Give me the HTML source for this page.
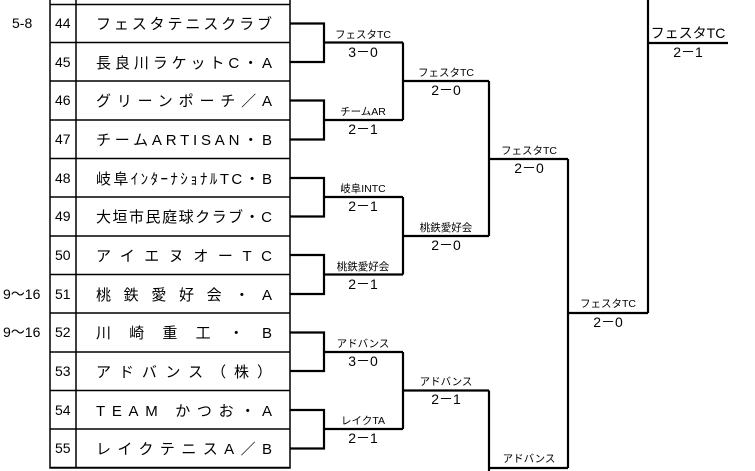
<!DOCTYPE html>
<html><head><meta charset="utf-8"><style>
html,body{margin:0;padding:0;background:#fff;}
svg{display:block;}
text{font-family:"Liberation Sans","Noto Sans CJK JP",sans-serif;fill:#000;}
.n{font-size:14px;}
.t{font-size:15px;}
.l{font-size:10.5px;}
.s{font-size:14px;}
</style></head><body>
<svg width="755" height="471" viewBox="0 0 755 471" xmlns="http://www.w3.org/2000/svg">
<g stroke="#000" stroke-width="1.5" fill="none">
<rect x="50" y="-2" width="240" height="470"/>
<line x1="76" y1="-2" x2="76" y2="468"/>
<line x1="50" y1="4.5" x2="290" y2="4.5"/>
<line x1="50" y1="42.5" x2="290" y2="42.5"/>
<line x1="50" y1="81" x2="290" y2="81"/>
<line x1="50" y1="120" x2="290" y2="120"/>
<line x1="50" y1="158.5" x2="290" y2="158.5"/>
<line x1="50" y1="197" x2="290" y2="197"/>
<line x1="50" y1="236" x2="290" y2="236"/>
<line x1="50" y1="274.5" x2="290" y2="274.5"/>
<line x1="50" y1="313" x2="290" y2="313"/>
<line x1="50" y1="352" x2="290" y2="352"/>
<line x1="50" y1="390.5" x2="290" y2="390.5"/>
<line x1="50" y1="429" x2="290" y2="429"/>
<line x1="50" y1="467.5" x2="290" y2="467.5"/>
</g>
<g stroke="#000" stroke-width="2.2" fill="none">
<polyline points="290,23.5 324,23.5 324,62 290,62"/><line x1="324" y1="42.5" x2="403" y2="42.5"/>
<polyline points="290,100.5 324,100.5 324,139.5 290,139.5"/><line x1="324" y1="120" x2="403" y2="120"/>
<polyline points="290,178 324,178 324,216.5 290,216.5"/><line x1="324" y1="197" x2="403" y2="197"/>
<polyline points="290,255 324,255 324,294 290,294"/><line x1="324" y1="274.5" x2="403" y2="274.5"/>
<polyline points="290,332.5 324,332.5 324,371 290,371"/><line x1="324" y1="352" x2="403" y2="352"/>
<polyline points="290,410 324,410 324,448.5 290,448.5"/><line x1="324" y1="429" x2="403" y2="429"/>
<line x1="403" y1="42.5" x2="403" y2="120"/><line x1="403" y1="81" x2="489" y2="81"/>
<line x1="403" y1="197" x2="403" y2="274.5"/><line x1="403" y1="236" x2="489" y2="236"/>
<line x1="403" y1="352" x2="403" y2="429"/><line x1="403" y1="390.5" x2="489" y2="390.5"/>
<line x1="489" y1="81" x2="489" y2="236"/><line x1="489" y1="159" x2="568" y2="159"/>
<line x1="489" y1="390.5" x2="489" y2="471"/><line x1="489" y1="468" x2="568" y2="468"/>
<line x1="568" y1="159" x2="568" y2="468"/><line x1="568" y1="313" x2="648" y2="313"/>
<line x1="648" y1="0" x2="648" y2="313"/><line x1="648" y1="43" x2="728" y2="43"/>
</g>
<text class="n" x="12" y="28">5-8</text>
<text class="n" x="3" y="299">9～16</text>
<text class="n" x="3" y="337">9～16</text>
<g class="n">
<text x="55" y="28">44</text><text x="55" y="67">45</text><text x="55" y="105">46</text><text x="55" y="144">47</text>
<text x="55" y="183">48</text><text x="55" y="221">49</text><text x="55" y="260">50</text><text x="55" y="299">51</text>
<text x="55" y="337">52</text><text x="55" y="376">53</text><text x="55" y="415">54</text><text x="55" y="453">55</text>
</g>
<g class="t">
<text x="96" y="29" textLength="176" lengthAdjust="spacing">フェスタテニスクラブ</text>
<text x="96" y="68" textLength="176" lengthAdjust="spacing">長良川ラケットC・A</text>
<text x="96" y="106" textLength="176" lengthAdjust="spacing">グリーンポーチ／A</text>
<text x="96" y="145" textLength="176" lengthAdjust="spacing">チームARTISAN・B</text>
<text x="96" y="184" textLength="176" lengthAdjust="spacing">岐阜ｲﾝﾀｰﾅｼｮﾅﾙTC・B</text>
<text x="96" y="222" textLength="176" lengthAdjust="spacing">大垣市民庭球クラブ・C</text>
<text x="96" y="261" textLength="176" lengthAdjust="spacing">アイエヌオーTC</text>
<text x="96" y="300" textLength="176" lengthAdjust="spacing">桃鉄愛好会・A</text>
<text x="96" y="338" textLength="176" lengthAdjust="spacing">川崎重工・B</text>
<text x="96" y="377" textLength="176" lengthAdjust="spacing">アドバンス（株）</text>
<text x="96" y="416" textLength="176" lengthAdjust="spacing">TEAM かつお・A</text>
<text x="96" y="454" textLength="176" lengthAdjust="spacing">レイクテニスA／B</text>
</g>
<g text-anchor="middle">
<text class="l" x="363" y="38">フェスタTC</text><text class="s" x="363" y="57">3－0</text>
<text class="l" x="363" y="115">チームAR</text><text class="s" x="363" y="134">2－1</text>
<text class="l" x="363" y="192">岐阜INTC</text><text class="s" x="363" y="211">2－1</text>
<text class="l" x="363" y="270">桃鉄愛好会</text><text class="s" x="363" y="289">2－1</text>
<text class="l" x="363" y="347">アドバンス</text><text class="s" x="363" y="366">3－0</text>
<text class="l" x="363" y="424">レイクTA</text><text class="s" x="363" y="443">2－1</text>
<text class="l" x="446" y="76">フェスタTC</text><text class="s" x="446" y="95">2－0</text>
<text class="l" x="446" y="231">桃鉄愛好会</text><text class="s" x="446" y="250">2－0</text>
<text class="l" x="446" y="385">アドバンス</text><text class="s" x="446" y="404">2－1</text>
<text class="l" x="529" y="154">フェスタTC</text><text class="s" x="529" y="173">2－0</text>
<text class="l" x="529" y="462">アドバンス</text>
<text class="l" x="608" y="307">フェスタTC</text><text class="s" x="608" y="327">2－0</text>
<text class="s" x="688" y="38">フェスタTC</text><text class="s" x="688" y="57">2－1</text>
</g>
</svg>
</body></html>
